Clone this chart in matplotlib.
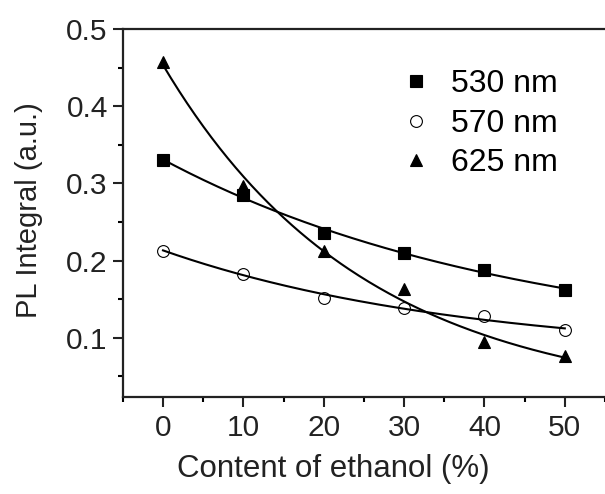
import numpy as np
import matplotlib
matplotlib.use('Agg')
import matplotlib.pyplot as plt
from matplotlib.ticker import MultipleLocator

plt.rcParams['font.family'] = ['Liberation Sans', 'DejaVu Sans']

ethanol = [0, 10, 20, 30, 40, 50]
pl_530 = [0.330, 0.285, 0.236, 0.210, 0.188, 0.162]
pl_570 = [0.213, 0.183, 0.152, 0.138, 0.128, 0.110]
pl_625 = [0.457, 0.297, 0.213, 0.163, 0.094, 0.076]

series = [
    ('530 nm', pl_530, 's', 'k'),
    ('570 nm', pl_570, 'o', 'none'),
    ('625 nm', pl_625, '^', 'k'),
]


def exp_fit(x, y):
    # y = c + A*exp(b*x), offset c picked by a simple scan
    x = np.asarray(x, float)
    y = np.asarray(y, float)
    best = None
    for c in np.linspace(0, y.min() * 0.95, 60):
        b, a = np.polyfit(x, np.log(y - c), 1)
        err = np.sum((c + np.exp(a + b * x) - y) ** 2)
        if best is None or err < best[0]:
            best = (err, c, a, b)
    return best[1:]


fig = plt.figure(figsize=(6.05, 4.94), dpi=100)
ax = fig.add_axes([0.203, 0.196, 0.797, 0.745])

xfit = np.linspace(0, 50, 200)
for label, y, mk, fc in series:
    c, a, b = exp_fit(ethanol, y)
    ax.plot(xfit, c + np.exp(a + b * xfit), color='k', lw=1.5)
    ax.plot(ethanol, y, linestyle='none', marker=mk, markersize=9 if mk == '^' else 8.5,
            markerfacecolor=fc, markeredgecolor='k', markeredgewidth=0.8, label=label)

ax.set_xlim(-5, 55)
ax.set_ylim(0.023, 0.5)
ax.xaxis.set_major_locator(MultipleLocator(10))
ax.xaxis.set_minor_locator(MultipleLocator(5))
ax.yaxis.set_major_locator(MultipleLocator(0.1))
ax.yaxis.set_minor_locator(MultipleLocator(0.05))
ax.yaxis.set_major_formatter(plt.FuncFormatter(lambda v, p: f'{v:.1f}'))
ax.tick_params(which='major', direction='out', length=7.2, width=1.5, labelsize=21.5,
               colors='#222222', pad=3.6)
ax.tick_params(which='minor', direction='out', length=3.6, width=1.5)
ax.tick_params(axis='x', which='major', pad=5)
ax.spines['right'].set_visible(False)
for s in ax.spines.values():
    s.set_linewidth(1.6)
    s.set_color('#222222')

ax.set_xlabel('Content of ethanol (%)', fontsize=22.5, color='#222222', va='top')
ax.xaxis.set_label_coords(0.436, -0.155)
ax.set_ylabel('PL Integral (a.u.)', fontsize=21, color='#222222')
ax.yaxis.set_label_coords(-0.166, 0.508)

ax.legend(loc='upper left', bbox_to_anchor=(0.549, 0.926), frameon=False, fontsize=23,
          handletextpad=0.6, labelspacing=0.3, handlelength=1.0, borderaxespad=0)

fig.savefig('out.png', dpi=100)
